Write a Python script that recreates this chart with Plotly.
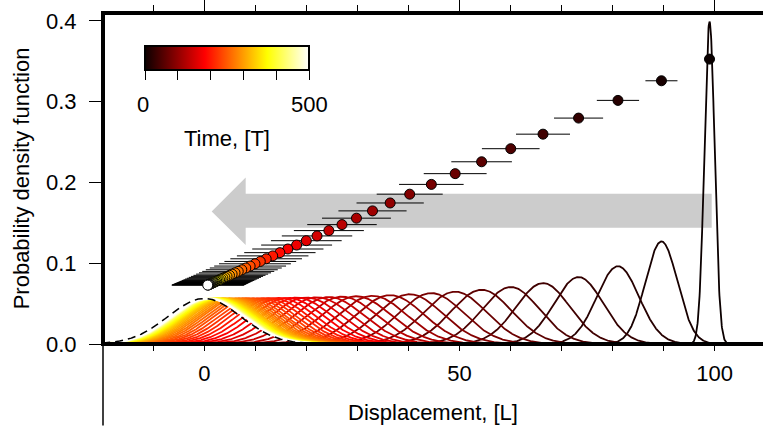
import numpy as np
import plotly.graph_objects as go
from plotly.colors import sample_colorscale

# Snapshot times of the relaxing distribution
times = [0, 10, 20, 30, 40, 50, 60, 70, 80, 90,
         100, 110, 120, 130, 140, 150, 160, 170, 180, 190,
         200, 210, 220, 230, 240, 250, 260, 270, 280, 290,
         300, 310, 320, 330, 340, 350, 360, 370, 380, 390,
         400, 410, 420, 430, 440, 450, 460, 470, 480, 490, 500]

# Mean displacement of each snapshot
means = [99.00, 89.58, 81.06, 73.34, 66.37, 60.05, 54.34, 49.16, 44.49, 40.25,
         36.42, 32.96, 29.82, 26.98, 24.41, 22.09, 19.99, 18.09, 16.37, 14.81,
         13.40, 12.12, 10.97, 9.93, 8.98, 8.13, 7.35, 6.65, 6.02, 5.45,
         4.93, 4.46, 4.04, 3.65, 3.30, 2.99, 2.71, 2.45, 2.21, 2.00,
         1.81, 1.64, 1.48, 1.34, 1.22, 1.10, 1.00, 0.90, 0.81, 0.74, 0.67]

# Standard deviation of each snapshot
sigmas = [1.00, 3.14, 4.14, 4.81, 5.29, 5.65, 5.94, 6.16, 6.33, 6.47,
          6.59, 6.68, 6.75, 6.81, 6.86, 6.90, 6.93, 6.95, 6.98, 6.99,
          7.01, 7.02, 7.03, 7.04, 7.04, 7.05, 7.05, 7.06, 7.06, 7.06,
          7.06, 7.06, 7.07, 7.07, 7.07, 7.07, 7.07, 7.07, 7.07, 7.07,
          7.07, 7.07, 7.07, 7.07, 7.07, 7.07, 7.07, 7.07, 7.07, 7.07, 7.07]

# Heights of the mean/spread markers of the trajectory inset
marker_heights = [0.3527, 0.3259, 0.3016, 0.2797, 0.2598, 0.2418, 0.2256, 0.2109, 0.1976, 0.1855,
                  0.1746, 0.1648, 0.1558, 0.1478, 0.1404, 0.1338, 0.1279, 0.1225, 0.1176, 0.1131,
                  0.1091, 0.1055, 0.1022, 0.0993, 0.0965, 0.0941, 0.0919, 0.0899, 0.0881, 0.0865,
                  0.0850, 0.0837, 0.0825, 0.0814, 0.0804, 0.0795, 0.0787, 0.0780, 0.0773, 0.0767,
                  0.0761, 0.0757, 0.0752, 0.0748, 0.0745, 0.0741, 0.0738, 0.0736, 0.0733, 0.0731, 0.0729]

# Stationary distribution
stationary_mean = 0.0
stationary_sigma = 7.07

x_ticks = [0, 50, 100]
y_ticks = [0.0, 0.1, 0.2, 0.3, 0.4]
colorbar_ticks = [0, 100, 200, 300, 400, 500]
t_max = 500

HOT = [[0.0, "rgb(11,0,0)"], [0.365079, "rgb(255,0,0)"],
       [0.746032, "rgb(255,255,0)"], [1.0, "rgb(255,255,255)"]]

FONT = "Liberation Sans, Arial, Helvetica, sans-serif"

xs = np.linspace(-20, 110, 2601)


def gauss(x, m, s):
    return np.exp(-0.5 * ((x - m) / s) ** 2) / (s * np.sqrt(2 * np.pi))


line_colors = sample_colorscale(HOT, [t / t_max for t in times])

fig = go.Figure()

for m, s, c in zip(means, sigmas, line_colors):
    fig.add_trace(go.Scatter(x=xs, y=gauss(xs, m, s), mode="lines",
                             line=dict(color=c, width=1.8),
                             hoverinfo="skip", showlegend=False))

# Markers with horizontal spread bars
fig.add_trace(go.Scatter(
    x=means, y=marker_heights, mode="markers",
    error_x=dict(type="data", array=sigmas, color="black", thickness=1, width=0),
    marker=dict(color=times, colorscale=HOT, cmin=0, cmax=t_max, size=10,
                line=dict(color="black", width=1), showscale=True,
                colorbar=dict(orientation="h", x=0.1879, xanchor="center",
                              y=0.9005, yanchor="top", len=164, lenmode="pixels",
                              thickness=24, thicknessmode="pixels",
                              outlinewidth=2, outlinecolor="black",
                              tickvals=colorbar_ticks, ticks="outside", ticklen=9,
                              tickwidth=1, tickcolor="black", showticklabels=False,
                              xpad=0, ypad=0, bgcolor="rgba(0,0,0,0)")),
    showlegend=False))

# Stationary density, dashed, on the top axis overlay
fig.add_trace(go.Scatter(x=xs, y=gauss(xs, stationary_mean, stationary_sigma),
                         mode="lines", xaxis="x2", yaxis="y",
                         line=dict(color="black", width=1.5, dash="8px,5px"),
                         hoverinfo="skip", showlegend=False))

x_range = [-19.85, 109.48]
y_range = [0.0, 0.4098]

# Big grey arrow pointing towards the origin
arrow_path = ("M 1.45,0.1641 L 8.11,0.2062 L 8.11,0.1860 L 99.43,0.1860 "
              "L 99.43,0.1440 L 8.11,0.1440 L 8.11,0.1226 Z")

# Thick frame lines centred on the plot edges
ex = 2 / 660
ey = 2 / 331.5
frame = dict(color="black", width=4)
frame_shapes = [
    dict(type="line", xref="paper", yref="paper", x0=-ex, x1=1, y0=0, y1=0, line=frame),
    dict(type="line", xref="paper", yref="paper", x0=-ex, x1=1, y0=1, y1=1, line=frame),
    dict(type="line", xref="paper", yref="paper", x0=0, x1=0, y0=-ey, y1=1 + ey, line=frame),
    dict(type="line", xref="paper", yref="paper", x0=0, x1=0, y0=0, y1=-0.246,
         line=dict(color="black", width=1.5)),
]

fig.update_layout(
    width=763, height=426,
    margin=dict(l=103, r=0, t=13, b=81.5, pad=0),
    paper_bgcolor="white", plot_bgcolor="white",
    font=dict(family=FONT, size=22, color="black"),
    xaxis=dict(range=x_range, showline=False,
               ticks="outside", ticklen=6, tickwidth=1, tickcolor="black",
               tickmode="array", tickvals=x_ticks, ticktext=[str(v) for v in x_ticks],
               minor=dict(ticks="outside", ticklen=6, tickwidth=1, tickcolor="black",
                          dtick=10, tick0=0),
               showgrid=False, zeroline=False, ticklabelstandoff=4),
    xaxis2=dict(range=x_range, overlaying="x", side="top", anchor="y",
                showline=False,
                ticks="outside", ticklen=13, tickwidth=1, tickcolor="black",
                tick0=0, dtick=50,
                minor=dict(ticks="outside", ticklen=7, tickwidth=1, tickcolor="black",
                           dtick=10, tick0=0),
                showticklabels=False, showgrid=False, zeroline=False),
    yaxis=dict(range=y_range, showline=False,
               ticks="outside", ticklen=13, tickwidth=1, tickcolor="black",
               tickmode="array", tickvals=y_ticks, ticktext=[f"{v:.1f}" for v in y_ticks],
               showgrid=False, zeroline=False, ticklabelstandoff=8,
               title=dict(text="Probability density function", standoff=10,
                          font=dict(family=FONT, size=22))),
    shapes=[
        dict(type="path", path=arrow_path, xref="x", yref="y",
             fillcolor="#cccccc", line=dict(width=0), layer="below"),
    ] + frame_shapes,
    annotations=[
        dict(text="Displacement, [L]", x=0.5, y=-0.2078, xref="paper", yref="paper",
             xanchor="center", yanchor="middle", showarrow=False,
             font=dict(family=FONT, size=22)),
        dict(text="0", x=0.0612, y=0.7243, xref="paper", yref="paper",
             xanchor="center", yanchor="middle", showarrow=False,
             font=dict(family=FONT, size=22)),
        dict(text="500", x=0.3126, y=0.7243, xref="paper", yref="paper",
             xanchor="center", yanchor="middle", showarrow=False,
             font=dict(family=FONT, size=22)),
        dict(text="Time, [T]", x=0.1873, y=0.6217, xref="paper", yref="paper",
             xanchor="center", yanchor="middle", showarrow=False,
             font=dict(family=FONT, size=22)),
    ],
)

fig.write_html("out.html")
